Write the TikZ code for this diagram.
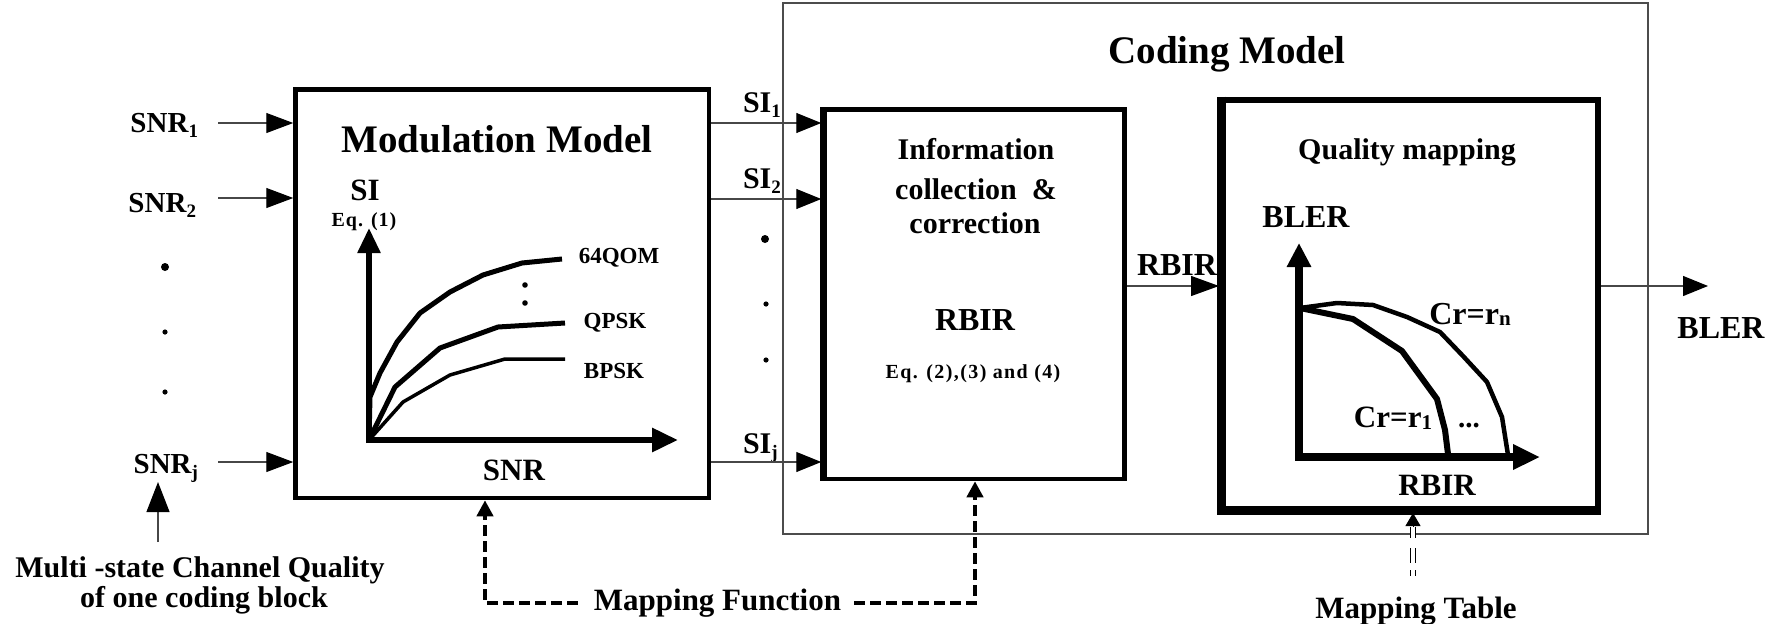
\documentclass[tikz,border=0pt]{standalone}
\usepackage{fontspec}
\setmainfont{Liberation Serif}
\usetikzlibrary{arrows.meta}
\newcommand\fz[1]{\fontsize{#1}{#1}\selectfont}
\newcommand\sbx[2][19]{\raisebox{-5pt}{\fz{#1}#2}}
\begin{document}
\begin{tikzpicture}[x=1pt,y=-1pt,
  txt/.style={inner sep=0pt, outer sep=0pt, font=\bfseries\fz{#1}},
  txt/.default=28,
  eqt/.style={inner sep=0pt, outer sep=0pt, font=\bfseries\fz{20}\addfontfeature{LetterSpace=#1}},
  blk/.style={draw, line width=4.5pt, inner sep=0pt},
  thinln/.style={line width=1.2pt, draw=black!72},
  tipA/.style={-{Triangle[length=27pt,width=20pt,color=black]}},
  tipB/.style={-{Triangle[length=25pt,width=20pt,color=black]}},
  mfdash/.style={line width=4pt, dash pattern=on 11pt off 5pt, -{Triangle[length=16pt,width=16pt]}},
  crv/.style={line width=#1, line join=round},
  dot/.style={fill=black}
]
\fill[white] (0,0) rectangle (1781,624);
\useasboundingbox (0,0) rectangle (1781,624);

% ---------- boxes ----------
\node[draw=black!70, line width=1.2pt, minimum width=865pt, minimum height=531pt, inner sep=0pt] (coding) at (1215.5,268.5) {};
\node[blk, minimum width=413.5pt, minimum height=408.5pt] (mod) at (502.25,293.75) {};
\node[blk, minimum width=301pt, minimum height=369.5pt] (info) at (974,294.25) {};
\draw[line width=7.5pt] (823.5,107.3) -- (823.5,481.2);
\node[draw, line width=6pt, minimum width=375.5pt, minimum height=410.5pt, inner sep=0pt] (qual) at (1409.75,304.75) {};
\draw[line width=9pt] (1221.5,96.5) -- (1221.5,510.5) -- (1600.5,510.5);

% ---------- titles ----------
\node[txt=39, anchor=base] (modt) at (497,152) {Modulation Model};
\node[txt=39, anchor=base] (codt) at (1227,63) {Coding Model};

% ---------- left inputs ----------
\node[txt=29, anchor=base east] (snr1) at (198,132) {SNR\sbx{1}};
\node[txt=29, anchor=base east] (snr2) at (196,212) {SNR\sbx{2}};
\node[txt=29, anchor=base east] (snrj) at (198,473) {SNR\sbx{j}};
\coordinate (a1) at (218,123);
\coordinate (a2) at (218,198);
\coordinate (a3) at (218,462);
\draw[thinln, tipA] (a1) -- (a1 -| mod.west);
\draw[thinln, tipA] (a2) -- (a2 -| mod.west);
\draw[thinln, tipA] (a3) -- (a3 -| mod.west);
\fill[dot] (165,267) circle (4);
\fill[dot] (165,332) circle (2.6);
\fill[dot] (165,392) circle (2.6);

\node[txt=30, anchor=base] (ms1) at (200,577) {Multi -state Channel Quality};
\node[txt=30, anchor=base] (ms2) at (204,607) {of one coding block};
\coordinate (ua) at (158,542);
\draw[thinln, -{Triangle[length=30pt,width=23pt,color=black]}] (ua) -- (snrj.south -| ua);

% ---------- modulation chart ----------
\node[txt=31] (si) at (365,190) {SI};
\node[eqt=5] (eq1) at (364,222) {Eq. (1)};
\draw[line width=5.5pt, -{Triangle[length=25pt,width=22pt]}] (369,443) -- (369,228);
\draw[line width=6pt, -{Triangle[length=26pt,width=23pt]}] (366,440) -- (678,440);
\draw[crv=5pt] (369,440) -- (370,397) -- (380,373) -- (397,342) -- (420,313) -- (450,292) -- (483,275) -- (522,263) -- (562,259);
\draw[crv=5pt] (369,440) -- (395,387) -- (440,348) -- (498,327) -- (565,323);
\draw[crv=3.5pt] (369,440) -- (403,402) -- (450,375) -- (505,359) -- (565,359);
\node[txt=23] (q64) at (619,258) {64QOM};
\node[txt=23] (qpsk) at (615,323) {QPSK};
\node[txt=23] (bpsk) at (614,371) {BPSK};
\fill[dot] (525,285) circle (2.8);
\fill[dot] (525,303) circle (2.8);
\node[txt=31] (snrx) at (514,470) {SNR};

% ---------- SI arrows ----------
\node[txt=30, anchor=base west] (si1) at (743,112) {SI\sbx{1}};
\node[txt=30, anchor=base west] (si2) at (743,188) {SI\sbx{2}};
\node[txt=30, anchor=base west] (sij) at (743,453) {SI\sbx{j}};
\coordinate (r1) at (0,123);
\coordinate (r2) at (0,199);
\coordinate (r3) at (0,462);
\coordinate (r4) at (0,286);
\draw[thinln, tipB] (mod.east |- r1) -- (info.west |- r1);
\draw[thinln, tipB] (mod.east |- r2) -- (info.west |- r2);
\draw[thinln, tipB] (mod.east |- r3) -- (info.west |- r3);
\fill[dot] (765,239) circle (4);
\fill[dot] (766,304) circle (2.6);
\fill[dot] (766,360) circle (2.6);

% ---------- information box ----------
\node[txt=30, anchor=base] (inf1) at (976,159) {Information};
\node[txt=30, anchor=base] (inf2) at (976,199) {collection\ \ \&};
\node[txt=30, anchor=base] (inf3) at (975,233) {correction};
\node[txt=32, anchor=base] (rbir1) at (975,330) {RBIR};
\node[eqt=7, anchor=base] (eq2) at (973,378) {Eq. (2),(3) and (4)};

% ---------- RBIR arrow ----------
\node[txt=32, anchor=base] (rbir2) at (1177,275) {RBIR};
\draw[thinln, -{Triangle[length=28pt,width=20pt,color=black]}] (info.east |- r4) -- (qual.west |- r4);

% ---------- quality mapping ----------
\node[txt=30, anchor=base] (qm) at (1407,159) {Quality mapping};
\node[txt=32, anchor=base] (bler1) at (1306,227) {BLER};
\draw[line width=7.5pt, -{Triangle[length=24pt,width=23pt]}] (1299,460) -- (1299,243);
\draw[line width=7.5pt, -{Triangle[length=27pt,width=24pt]}] (1295,457) -- (1540,457);
\draw[crv=6pt] (1300,308) -- (1353,319) -- (1402,351) -- (1437,399) -- (1445,430) -- (1448,454);
\draw[crv=4.5pt] (1300,308) -- (1337,303) -- (1373,305) -- (1407,317) -- (1440,332) -- (1463,356) -- (1487,382) -- (1502,417) -- (1508,455);
\node[txt=32, anchor=base] (crn) at (1470,324) {Cr=r\raisebox{-1pt}{\fz{21}n}};
\node[txt=31, anchor=base] (cr1) at (1393,427) {Cr=r\raisebox{-2pt}{\fz{21}1}};
\node[txt=29, anchor=base] (dd) at (1469,427) {...};
\node[txt=31, anchor=base] (rbir3) at (1437,495) {RBIR};

% ---------- output ----------
\coordinate (out) at (1708,286);
\draw[thinln, -{Triangle[length=25pt,width=20pt,color=black]}] (qual.east |- r4) -- (out);
\node[txt=32, anchor=base] (bler2) at (1721,338) {BLER};

% ---------- mapping table ----------
\node[txt=31, anchor=base] (mt) at (1416,618) {Mapping Table};
\coordinate (mtb) at (1413,527);
\coordinate (mte) at (1413,576);
\draw[line width=0.9pt, double distance=3.5pt, dash pattern=on 11pt off 10pt on 15pt off 7pt on 6pt off 20pt] (mtb) -- (mte);
\draw[line width=0.8pt, -{Triangle[length=13pt,width=15pt]}] (mtb) -- (qual.south -| mtb);

% ---------- mapping function ----------
\node[txt=31, anchor=base] (mf) at (717.5,610) {Mapping Function};
\coordinate (dl) at (485,600);
\coordinate (dr) at (975,600);
\draw[mfdash] ([xshift=-16pt]mf.west) -| (mod.south -| dl);
\draw[mfdash] ([xshift=13pt]mf.east) -| (info.south -| dr);
\end{tikzpicture}
\end{document}
